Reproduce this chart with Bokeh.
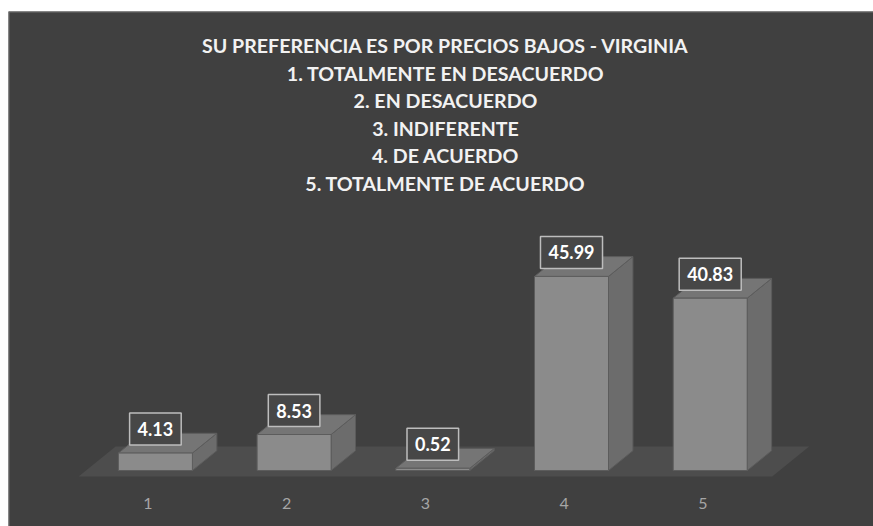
from bokeh.plotting import figure
from bokeh.models import Range1d, Span, ColumnDataSource, Spacer
from bokeh.layouts import column, row
from bokeh.core.properties import value
from bokeh.embed import file_html
from bokeh.resources import INLINE

# ---- data ----
categories = ["1", "2", "3", "4", "5"]
values = [4.13, 8.53, 0.52, 45.99, 40.83]
value_labels = ["4.13", "8.53", "0.52", "45.99", "40.83"]
title_lines = [
    "SU PREFERENCIA ES POR PRECIOS BAJOS - VIRGINIA",
    "1. TOTALMENTE EN DESACUERDO",
    "2. EN DESACUERDO",
    "3. INDIFERENTE",
    "4. DE ACUERDO",
    "5. TOTALMENTE DE ACUERDO",
]

# ---- layout (pixels) ----
W, H = 865, 515
PX_CAT = 138.7          # pixels per category
PX_VAL = 4.22           # pixels per value unit
FIRST_CAT_PX = 139.5    # x of first category, relative to figure left
ZERO_PX = 459.0         # y of value 0, relative to figure top

BG = "#404040"
FONT = "Lato"

n = len(categories)
xs_cat = list(range(1, n + 1))

x_start = 1 - FIRST_CAT_PX / PX_CAT
x_end = 1 + (W - FIRST_CAT_PX) / PX_CAT
y_end = ZERO_PX / PX_VAL
y_start = -(H - ZERO_PX) / PX_VAL

p = figure(width=W, height=H, x_range=Range1d(x_start, x_end), y_range=Range1d(y_start, y_end),
           output_backend="svg", toolbar_location=None,
           x_axis_location=None, y_axis_location=None,
           min_border_left=0, min_border_right=0, min_border_top=0, min_border_bottom=0)
p.background_fill_color = BG
p.border_fill_color = BG
p.outline_line_color = None
p.xgrid.visible = False
p.ygrid.visible = False

# depth of the 3D floor (data units)
DX = 37 / PX_CAT
DY = 30 / PX_VAL
F0 = 0.2     # bar front position in floor depth
BD = 0.66    # bar depth fraction
BW = 74 / PX_CAT

# floor
fl, fr = 0.5, n + 0.5
p.patch([fl, fr, fr + DX, fl + DX], [-F0 * DY, -F0 * DY, (1 - F0) * DY, (1 - F0) * DY],
        fill_color="#4d4d4d", line_color=None)

# bars
front_l, front_r, side_xs, side_ys, top_xs, top_ys, centers = [], [], [], [], [], [], []
for i, v in zip(xs_cat, values):
    x0 = i + F0 * DX - BW / 2
    x1 = x0 + BW
    front_l.append(x0)
    front_r.append(x1)
    centers.append(i + F0 * DX)
    side_xs.append([x1, x1 + BD * DX, x1 + BD * DX, x1])
    side_ys.append([0, BD * DY, v + BD * DY, v])
    top_xs.append([x0, x1, x1 + BD * DX, x0 + BD * DX])
    top_ys.append([v, v, v + BD * DY, v + BD * DY])

p.patches(side_xs, side_ys, fill_color="#6c6c6c", line_color="#5c5c5c", line_width=1)
p.patches(top_xs, top_ys, fill_color="#757575", line_color="#5c5c5c", line_width=1)
p.quad(left=front_l, right=front_r, bottom=[0] * n, top=values,
       fill_color="#8b8b8b", line_color="#5c5c5c", line_width=1)

# value labels
src = ColumnDataSource(dict(x=centers, y=values, t=value_labels))
p.text(x="x", y="y", text="t", source=src, y_offset=-24,
       text_align="center", text_baseline="middle",
       text_font=value(FONT), text_font_style="bold", text_font_size="18px",
       text_color="#ffffff",
       background_fill_color="#474747",
       border_line_color="#bdbdbd", border_line_width=1.5,
       padding=dict(left=8, right=8, top=9, bottom=9))

# category labels (x axis)
p.text(x=xs_cat, y=[0] * n, text=categories, y_offset=33,
       text_align="center", text_baseline="middle",
       text_font=value(FONT), text_font_size="16px", text_color="#a6a6a6")

# title
TITLE_CENTER_PX = 437.0
TITLE_TOP_PX = 34.0
TITLE_STEP_PX = 27.5
tx = 1 + (TITLE_CENTER_PX - FIRST_CAT_PX) / PX_CAT
ty = [(ZERO_PX - (TITLE_TOP_PX + k * TITLE_STEP_PX)) / PX_VAL for k in range(len(title_lines))]
p.text(x=[tx] * len(title_lines), y=ty, text=title_lines,
       text_align="center", text_baseline="middle",
       text_font=value(FONT), text_font_style="bold", text_font_size="19.6px",
       text_color="#f2f2f2")

# chart border (left and top)
p.add_layout(Span(location=x_start, dimension="height", line_color="#6e6e6e", line_width=2))
p.add_layout(Span(location=y_end, dimension="width", line_color="#6e6e6e", line_width=2))

layout = row(Spacer(width=8), column(Spacer(height=11), p, spacing=0), spacing=0)
open("out.html", "w").write(file_html(layout, INLINE))
